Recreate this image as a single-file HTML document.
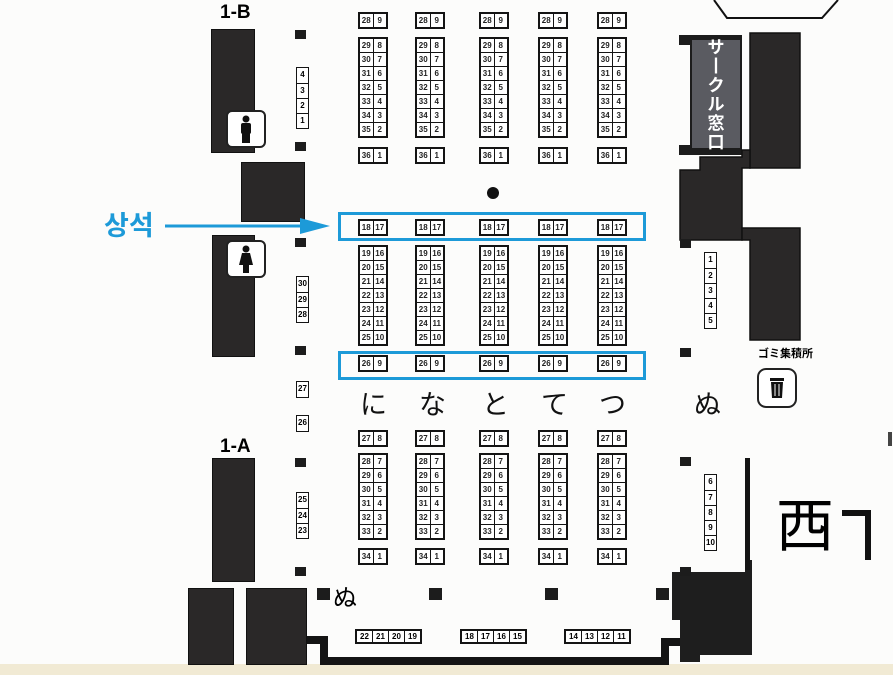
<!DOCTYPE html>
<html><head><meta charset="utf-8"><style>
body{margin:0;width:893px;height:675px;overflow:hidden;background:#fcfcfb;position:relative;font-family:"Liberation Sans","Noto Sans CJK JP",sans-serif}
.a{position:absolute}
.k{position:absolute;background:#2a2828;border:1.5px solid #111;box-sizing:border-box}
.q{position:absolute;width:11px;height:9px;background:#1c1c1c}
.c{position:absolute;width:30px;border:2px solid #141414;background:#fff;box-sizing:border-box}
.c div{display:flex;height:14px;border-top:1px solid #141414;box-sizing:border-box}
.c div:first-child{border-top:0;height:13px}
.c span{flex:1;font:bold 8px "Liberation Sans",sans-serif;text-align:center;line-height:13px;color:#222}
.c span+span{border-left:1.5px solid #141414}
.v{position:absolute;width:13px;border:1.5px solid #141414;background:#fff;box-sizing:border-box}
.v span{display:block;height:15px;font:bold 8px "Liberation Sans",sans-serif;text-align:center;line-height:14px;border-top:1px solid #141414;box-sizing:border-box}
.v span:first-child{border-top:0}
.h{position:absolute;height:15px;display:flex;border:2px solid #141414;background:#fff;box-sizing:border-box}
.h span{width:15px;font:bold 8px "Liberation Sans",sans-serif;text-align:center;line-height:11px;border-left:1.5px solid #141414}
.h span:first-child{border-left:0}
.kana{position:absolute;font-size:27px;color:#111;top:383px}
.wc{position:absolute;width:40px;height:38px;border:2px solid #222;border-radius:6px;background:#fff;box-sizing:border-box}
.bb{position:absolute;border:3px solid #1d9ad8;box-sizing:border-box}
</style></head><body>
<div class="a" style="left:0;top:664px;width:893px;height:11px;background:#f1ead4"></div>

<div class="a" style="left:220px;top:2px;font-size:19px;font-weight:bold">1-B</div>
<div class="k" style="left:211px;top:29px;width:44px;height:124px"></div>
<div class="wc" style="left:226px;top:110px"><svg width="36" height="34"><circle cx="18" cy="7" r="3.5" fill="#111"/><rect x="13" y="11" width="10" height="11" rx="2" fill="#111"/><rect x="14" y="20" width="8" height="11" fill="#111"/></svg></div>
<div class="k" style="left:241px;top:162px;width:64px;height:60px"></div>
<div class="k" style="left:212px;top:235px;width:43px;height:122px"></div>
<div class="wc" style="left:226px;top:240px"><svg width="36" height="34"><circle cx="18" cy="7" r="3.5" fill="#111"/><polygon points="14,11 22,11 25,23 11,23" fill="#111"/><rect x="15" y="22" width="6" height="9" fill="#111"/></svg></div>
<div class="a" style="left:220px;top:436px;font-size:19px;font-weight:bold">1-A</div>
<div class="k" style="left:212px;top:458px;width:43px;height:124px"></div>
<div class="k" style="left:188px;top:588px;width:46px;height:77px"></div>
<div class="k" style="left:246px;top:588px;width:61px;height:77px"></div>

<div class="q" style="left:295px;top:30px"></div>
<div class="v" style="left:296px;top:67px"><span>4</span><span>3</span><span>2</span><span>1</span></div>
<div class="q" style="left:295px;top:142px"></div>
<div class="q" style="left:295px;top:238px"></div>
<div class="v" style="left:296px;top:276px"><span>30</span><span>29</span><span>28</span></div>
<div class="q" style="left:295px;top:346px"></div>
<div class="v" style="left:296px;top:381px"><span>27</span></div>
<div class="v" style="left:296px;top:415px"><span>26</span></div>
<div class="q" style="left:295px;top:458px"></div>
<div class="v" style="left:296px;top:492px"><span>25</span><span>24</span><span>23</span></div>
<div class="q" style="left:295px;top:567px"></div>

<div class="a" style="left:104px;top:204px;font:bold 27px 'Noto Sans CJK KR',sans-serif;color:#1d9ad8">상석</div>
<svg class="a" style="left:0;top:0" width="893" height="675">
<line x1="165" y1="226" x2="305" y2="226" stroke="#1d9ad8" stroke-width="3"/>
<polygon points="300,218 330,226 300,234" fill="#1d9ad8"/>
<polyline points="714,0 727,18 822,18 838,0" fill="none" stroke="#111" stroke-width="2"/>
<polyline points="307,640 324,640 324,661 665,661 665,642 682,642" fill="none" stroke="#141414" stroke-width="8"/>
<polygon points="679,35 742,35 742,155 679,155 679,145 690,145 690,45 679,45" fill="#1c1c1c"/>
<rect x="692" y="40" width="48" height="108" fill="#5a5b61"/>
<rect x="750" y="33" width="50" height="135" fill="#2a2828" stroke="#111" stroke-width="1.5"/>
<polygon points="700,157 742,157 742,150 750,150 750,168 742,168 742,240 680,240 680,170 700,170" fill="#2a2828" stroke="#111" stroke-width="1.5"/>
<polygon points="742,228 800,228 800,340 750,340 750,240 742,240" fill="#2a2828" stroke="#111" stroke-width="1.5"/>
<polygon points="680,572 745,572 745,560 752,560 752,655 700,655 700,662 680,662 680,620 672,620 672,572" fill="#1e1e1e"/>
<rect x="745" y="458" width="5" height="112" fill="#141414"/>
<rect x="888" y="432" width="4" height="14" fill="#444"/>
<rect x="758" y="369" width="38" height="38" rx="8" fill="#fff" stroke="#222" stroke-width="2"/>
<rect x="770" y="378" width="14" height="3" fill="#111"/>
<polygon points="771,382 783,382 782,398 772,398" fill="#111"/>
<line x1="775" y1="384" x2="775" y2="396" stroke="#fff" stroke-width="1"/>
<line x1="779" y1="384" x2="779" y2="396" stroke="#fff" stroke-width="1"/>
</svg>
<div class="a" style="left:704px;top:38px;width:24px;color:#fff;font-size:17px;font-weight:bold;line-height:19px;text-align:center">サ<br>丨<br>ク<br>ル<br>窓<br>口</div>

<div class="q" style="left:680px;top:239px"></div>
<div class="v" style="left:704px;top:252px"><span>1</span><span>2</span><span>3</span><span>4</span><span>5</span></div>
<div class="q" style="left:680px;top:348px"></div>
<div class="a" style="left:758px;top:345px;font-size:11px;font-weight:bold">ゴミ集積所</div>
<div class="kana" style="left:694px">ぬ</div>
<div class="q" style="left:680px;top:457px"></div>
<div class="v" style="left:704px;top:474px"><span>6</span><span>7</span><span>8</span><span>9</span><span>10</span></div>
<div class="q" style="left:680px;top:567px"></div>
<div class="a" style="left:776px;top:492px;font-size:58px;line-height:70px">西</div>
<svg class="a" style="left:838px;top:505px" width="40" height="60"><polyline points="4,8 30,8 30,55" fill="none" stroke="#111" stroke-width="6"/></svg>

<div class="bb" style="left:338px;top:212px;width:308px;height:29px"></div>
<div class="bb" style="left:338px;top:351px;width:308px;height:29px"></div>
<div class="a" style="left:487px;top:187px;width:12px;height:12px;border-radius:50%;background:#111"></div>

<div class="kana" style="left:360px">に</div>
<div class="kana" style="left:419px">な</div>
<div class="kana" style="left:482px">と</div>
<div class="kana" style="left:541px">て</div>
<div class="kana" style="left:599px">つ</div>

<div class="q" style="left:317px;top:588px;width:13px;height:12px"></div>
<div class="a" style="left:333px;top:578px;font-size:24px">ぬ</div>
<div class="q" style="left:429px;top:588px;width:13px;height:12px"></div>
<div class="q" style="left:545px;top:588px;width:13px;height:12px"></div>
<div class="q" style="left:656px;top:588px;width:13px;height:12px"></div>
<div class="h" style="left:355px;top:629px"><span>22</span><span>21</span><span>20</span><span>19</span></div>
<div class="h" style="left:460px;top:629px"><span>18</span><span>17</span><span>16</span><span>15</span></div>
<div class="h" style="left:564px;top:629px"><span>14</span><span>13</span><span>12</span><span>11</span></div>

<div class="c" style="left:358px;top:12px"><div><span>28</span><span>9</span></div></div>
<div class="c" style="left:358px;top:37px"><div><span>29</span><span>8</span></div><div><span>30</span><span>7</span></div><div><span>31</span><span>6</span></div><div><span>32</span><span>5</span></div><div><span>33</span><span>4</span></div><div><span>34</span><span>3</span></div><div><span>35</span><span>2</span></div></div>
<div class="c" style="left:358px;top:147px"><div><span>36</span><span>1</span></div></div>
<div class="c" style="left:358px;top:219px"><div><span>18</span><span>17</span></div></div>
<div class="c" style="left:358px;top:245px"><div><span>19</span><span>16</span></div><div><span>20</span><span>15</span></div><div><span>21</span><span>14</span></div><div><span>22</span><span>13</span></div><div><span>23</span><span>12</span></div><div><span>24</span><span>11</span></div><div><span>25</span><span>10</span></div></div>
<div class="c" style="left:358px;top:355px"><div><span>26</span><span>9</span></div></div>
<div class="c" style="left:358px;top:430px"><div><span>27</span><span>8</span></div></div>
<div class="c" style="left:358px;top:453px"><div><span>28</span><span>7</span></div><div><span>29</span><span>6</span></div><div><span>30</span><span>5</span></div><div><span>31</span><span>4</span></div><div><span>32</span><span>3</span></div><div><span>33</span><span>2</span></div></div>
<div class="c" style="left:358px;top:548px"><div><span>34</span><span>1</span></div></div>
<div class="c" style="left:415px;top:12px"><div><span>28</span><span>9</span></div></div>
<div class="c" style="left:415px;top:37px"><div><span>29</span><span>8</span></div><div><span>30</span><span>7</span></div><div><span>31</span><span>6</span></div><div><span>32</span><span>5</span></div><div><span>33</span><span>4</span></div><div><span>34</span><span>3</span></div><div><span>35</span><span>2</span></div></div>
<div class="c" style="left:415px;top:147px"><div><span>36</span><span>1</span></div></div>
<div class="c" style="left:415px;top:219px"><div><span>18</span><span>17</span></div></div>
<div class="c" style="left:415px;top:245px"><div><span>19</span><span>16</span></div><div><span>20</span><span>15</span></div><div><span>21</span><span>14</span></div><div><span>22</span><span>13</span></div><div><span>23</span><span>12</span></div><div><span>24</span><span>11</span></div><div><span>25</span><span>10</span></div></div>
<div class="c" style="left:415px;top:355px"><div><span>26</span><span>9</span></div></div>
<div class="c" style="left:415px;top:430px"><div><span>27</span><span>8</span></div></div>
<div class="c" style="left:415px;top:453px"><div><span>28</span><span>7</span></div><div><span>29</span><span>6</span></div><div><span>30</span><span>5</span></div><div><span>31</span><span>4</span></div><div><span>32</span><span>3</span></div><div><span>33</span><span>2</span></div></div>
<div class="c" style="left:415px;top:548px"><div><span>34</span><span>1</span></div></div>
<div class="c" style="left:479px;top:12px"><div><span>28</span><span>9</span></div></div>
<div class="c" style="left:479px;top:37px"><div><span>29</span><span>8</span></div><div><span>30</span><span>7</span></div><div><span>31</span><span>6</span></div><div><span>32</span><span>5</span></div><div><span>33</span><span>4</span></div><div><span>34</span><span>3</span></div><div><span>35</span><span>2</span></div></div>
<div class="c" style="left:479px;top:147px"><div><span>36</span><span>1</span></div></div>
<div class="c" style="left:479px;top:219px"><div><span>18</span><span>17</span></div></div>
<div class="c" style="left:479px;top:245px"><div><span>19</span><span>16</span></div><div><span>20</span><span>15</span></div><div><span>21</span><span>14</span></div><div><span>22</span><span>13</span></div><div><span>23</span><span>12</span></div><div><span>24</span><span>11</span></div><div><span>25</span><span>10</span></div></div>
<div class="c" style="left:479px;top:355px"><div><span>26</span><span>9</span></div></div>
<div class="c" style="left:479px;top:430px"><div><span>27</span><span>8</span></div></div>
<div class="c" style="left:479px;top:453px"><div><span>28</span><span>7</span></div><div><span>29</span><span>6</span></div><div><span>30</span><span>5</span></div><div><span>31</span><span>4</span></div><div><span>32</span><span>3</span></div><div><span>33</span><span>2</span></div></div>
<div class="c" style="left:479px;top:548px"><div><span>34</span><span>1</span></div></div>
<div class="c" style="left:538px;top:12px"><div><span>28</span><span>9</span></div></div>
<div class="c" style="left:538px;top:37px"><div><span>29</span><span>8</span></div><div><span>30</span><span>7</span></div><div><span>31</span><span>6</span></div><div><span>32</span><span>5</span></div><div><span>33</span><span>4</span></div><div><span>34</span><span>3</span></div><div><span>35</span><span>2</span></div></div>
<div class="c" style="left:538px;top:147px"><div><span>36</span><span>1</span></div></div>
<div class="c" style="left:538px;top:219px"><div><span>18</span><span>17</span></div></div>
<div class="c" style="left:538px;top:245px"><div><span>19</span><span>16</span></div><div><span>20</span><span>15</span></div><div><span>21</span><span>14</span></div><div><span>22</span><span>13</span></div><div><span>23</span><span>12</span></div><div><span>24</span><span>11</span></div><div><span>25</span><span>10</span></div></div>
<div class="c" style="left:538px;top:355px"><div><span>26</span><span>9</span></div></div>
<div class="c" style="left:538px;top:430px"><div><span>27</span><span>8</span></div></div>
<div class="c" style="left:538px;top:453px"><div><span>28</span><span>7</span></div><div><span>29</span><span>6</span></div><div><span>30</span><span>5</span></div><div><span>31</span><span>4</span></div><div><span>32</span><span>3</span></div><div><span>33</span><span>2</span></div></div>
<div class="c" style="left:538px;top:548px"><div><span>34</span><span>1</span></div></div>
<div class="c" style="left:597px;top:12px"><div><span>28</span><span>9</span></div></div>
<div class="c" style="left:597px;top:37px"><div><span>29</span><span>8</span></div><div><span>30</span><span>7</span></div><div><span>31</span><span>6</span></div><div><span>32</span><span>5</span></div><div><span>33</span><span>4</span></div><div><span>34</span><span>3</span></div><div><span>35</span><span>2</span></div></div>
<div class="c" style="left:597px;top:147px"><div><span>36</span><span>1</span></div></div>
<div class="c" style="left:597px;top:219px"><div><span>18</span><span>17</span></div></div>
<div class="c" style="left:597px;top:245px"><div><span>19</span><span>16</span></div><div><span>20</span><span>15</span></div><div><span>21</span><span>14</span></div><div><span>22</span><span>13</span></div><div><span>23</span><span>12</span></div><div><span>24</span><span>11</span></div><div><span>25</span><span>10</span></div></div>
<div class="c" style="left:597px;top:355px"><div><span>26</span><span>9</span></div></div>
<div class="c" style="left:597px;top:430px"><div><span>27</span><span>8</span></div></div>
<div class="c" style="left:597px;top:453px"><div><span>28</span><span>7</span></div><div><span>29</span><span>6</span></div><div><span>30</span><span>5</span></div><div><span>31</span><span>4</span></div><div><span>32</span><span>3</span></div><div><span>33</span><span>2</span></div></div>
<div class="c" style="left:597px;top:548px"><div><span>34</span><span>1</span></div></div>
</body></html>
